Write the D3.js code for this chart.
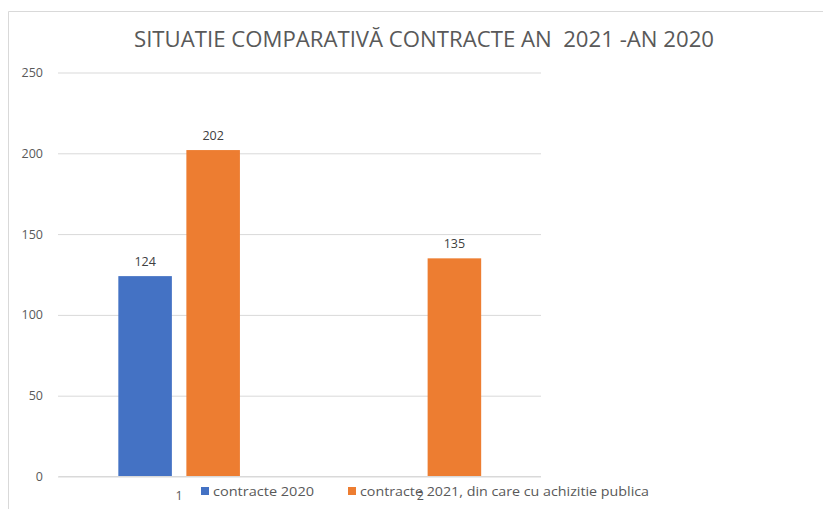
<!DOCTYPE html>
<html><head><meta charset="utf-8">
<script src="https://cdn.jsdelivr.net/npm/d3@7"></script>
<style>body{margin:0;background:#fff}svg{display:block}</style>
</head><body>
<script>
const title = "SITUATIE COMPARATIVĂ CONTRACTE AN  2021 -AN 2020";
const categories = ["1", "2"];
const seriesNames = ["contracte 2020", "contracte 2021, din care cu achizitie publica"];
const series2020 = [124, null];
const series2021 = [202, 135];
const yTicks = [0, 50, 100, 150, 200, 250];
const colors = ["#4472C4", "#ED7D31"];

const W = 823, H = 509;
const svg = d3.select("body").append("svg").attr("width", W).attr("height", H);
const font = "'Open Sans', 'Liberation Sans', sans-serif";

// border
svg.append("path").attr("d", `M8.5,${H} V11.5 H${W}`).attr("fill", "none").attr("stroke", "#d9d9d9").attr("stroke-width", 1);

const y = d3.scaleLinear().domain([0, 250]).range([476.5, 72.5]);
const x0 = d3.scaleBand().domain(categories).range([58.5, 541]).paddingInner(0.496).paddingOuter(0.248);
const x1 = d3.scaleBand().domain([0, 1]).range([0, x0.bandwidth()]).paddingInner(0.213);

// title
svg.append("text").attr("x", 424).attr("y", 47).attr("text-anchor", "middle")
  .attr("font-family", font).attr("font-size", 21).attr("fill", "#595959").attr("xml:space","preserve")
  .text(title).attr("textLength", 580).attr("lengthAdjust", "spacingAndGlyphs");

// gridlines
const yAxis = d3.axisLeft(y).tickValues(yTicks).tickSize(-(541 - 58)).tickPadding(15);
const gy = svg.append("g").attr("transform", "translate(58,0)").call(yAxis);
gy.select(".domain").remove();
gy.selectAll("line").attr("stroke", "#d9d9d9").attr("stroke-width", 1);
gy.selectAll("text").attr("font-family", font).attr("font-size", 12.5).attr("fill", "#595959");

// bars
const data = categories.map((c, i) => ({ c, vals: [series2020[i], series2021[i]] }));
const groups = svg.append("g").selectAll("g").data(data).join("g")
  .attr("transform", d => `translate(${x0(d.c)},0)`);
groups.selectAll("rect").data(d => d.vals.map((v, s) => ({ v, s })).filter(e => e.v != null)).join("rect")
  .attr("x", e => x1(e.s)).attr("width", x1.bandwidth())
  .attr("y", e => y(e.v)).attr("height", e => y(0) - y(e.v)).attr("fill", e => colors[e.s]);
groups.selectAll("text").data(d => d.vals.map((v, s) => ({ v, s })).filter(e => e.v != null)).join("text")
  .attr("x", e => x1(e.s) + x1.bandwidth() / 2).attr("y", e => y(e.v) - 10)
  .attr("text-anchor", "middle").attr("font-family", font).attr("font-size", 12.5).attr("fill", "#404040")
  .text(e => e.v);

// x axis
const xAxis = d3.axisBottom(x0).tickSize(0).tickPadding(15);
const gx = svg.append("g").attr("transform", `translate(0,${y(0)})`).call(xAxis);
gx.select(".domain").attr("stroke", "#d9d9d9").attr("d", `M58.5,0H541`);
gx.selectAll("text").attr("font-family", font).attr("font-size", 12.5).attr("fill", "#595959");

// legend
const legX = [201, 348], legTextLen = [101, 289];
const leg = svg.append("g").selectAll("g").data(seriesNames).join("g")
  .attr("transform", (d, i) => `translate(${legX[i]},487)`);
leg.append("rect").attr("width", 8).attr("height", 8).attr("fill", (d, i) => colors[i]);
leg.append("text").attr("x", 12).attr("y", 8.5).attr("font-family", font).attr("font-size", 13)
  .attr("fill", "#595959").text(d => d)
  .attr("textLength", (d, i) => legTextLen[i]).attr("lengthAdjust", "spacingAndGlyphs");
</script>
</body></html>
